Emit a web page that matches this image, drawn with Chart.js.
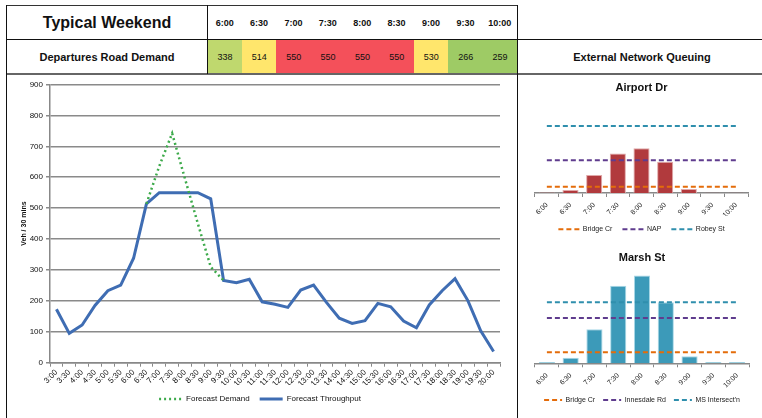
<!DOCTYPE html>
<html>
<head>
<meta charset="utf-8">
<title>Typical Weekend</title>
<script src="https://cdn.jsdelivr.net/npm/chart.js@4.4.1/dist/chart.umd.min.js"></script>
<style>
  html, body { margin: 0; padding: 0; background: #fff; }
  body { width: 762px; height: 418px; position: relative; overflow: hidden;
         font-family: 'Liberation Sans', Arial, sans-serif; color: #111; }
  .rule { position: absolute; background: #111; }
  .txt { position: absolute; white-space: nowrap; transform: translate(-50%, -50%); }
  .cell { position: absolute; display: flex; align-items: center; justify-content: center; font-size: 9px; }
  canvas { position: absolute; }
</style>
</head>
<body>
  <!-- table rules -->
  <div class="rule" style="left:6px; top:5px; width:512px; height:1px; background:#333;"></div>
  <div class="rule" style="left:6px; top:39px; width:756px; height:1px;"></div>
  <div class="rule" style="left:6px; top:73px; width:756px; height:2px; background:#666;"></div>
  <div class="rule" style="left:6px; top:5px; width:1px; height:413px;"></div>
  <div class="rule" style="left:207px; top:5px; width:1px; height:69px;"></div>
  <div class="rule" style="left:517px; top:5px; width:1px; height:413px;"></div>

  <div class="txt" style="left:107px; top:22.5px; font-size:16px; font-weight:bold;">Typical Weekend</div>
  <div class="txt" style="left:107px; top:57px; font-size:11px; font-weight:bold;">Departures Road Demand</div>
  <div class="txt" style="left:642px; top:57px; font-size:11px; font-weight:bold;">External Network Queuing</div>

  <div id="table"></div>

  <canvas id="mainChart" width="510" height="343" style="left:7px; top:75px;"></canvas>
  <canvas id="airportChart" width="243" height="170" style="left:519px; top:75px;"></canvas>
  <canvas id="marshChart" width="243" height="178" style="left:519px; top:240px;"></canvas>

<script>
// Peak-period road demand (veh / 30 mins)
const peakSlots = ['6:00', '6:30', '7:00', '7:30', '8:00', '8:30', '9:00', '9:30', '10:00'];
const roadDemand = [338, 514, 550, 550, 550, 550, 530, 266, 259];

// Whole-day profile, 3:00 to 20:00
const timeLabels = ['3:00', '3:30', '4:00', '4:30', '5:00', '5:30', '6:00', '6:30', '7:00', '7:30',
  '8:00', '8:30', '9:00', '9:30', '10:00', '10:30', '11:00', '11:30', '12:00', '12:30',
  '13:00', '13:30', '14:00', '14:30', '15:00', '15:30', '16:00', '16:30', '17:00', '17:30',
  '18:00', '18:30', '19:00', '19:30', '20:00'];
const forecastThroughput = [173, 95, 122, 185, 233, 251, 338, 514, 550, 550,
  550, 550, 530, 266, 259, 270, 197, 189, 179, 235,
  251, 195, 144, 127, 136, 192, 181, 135, 113, 187,
  233, 272, 201, 103, 36];
const forecastDemand = [null, null, null, null, null, null, null, 514, 636, 742,
  595, 450, 310, 266, null, null, null, null, null, null,
  null, null, null, null, null, null, null, null, null, null,
  null, null, null, null, null];

// External network queue lengths (m) and storage limits
const airportQueue = [3, 16, 97, 213, 240, 168, 22, 2, 2];
const airportBridgeCr = [34, 34, 34, 34, 34, 34, 34, 34, 34];
const airportNAP = [176, 176, 176, 176, 176, 176, 176, 176, 176];
const airportRobeySt = [360, 360, 360, 360, 360, 360, 360, 360, 360];

const marshQueue = [7, 30, 182, 416, 470, 327, 38, 7, 7];
const marshBridgeCr = [59, 59, 59, 59, 59, 59, 59, 59, 59];
const marshInnesdaleRd = [243, 243, 243, 243, 243, 243, 243, 243, 243];
const marshMSIntersection = [327, 327, 327, 327, 327, 327, 327, 327, 327];

// ---- header table ----
function demandColour(v) {
  if (v >= 545) return '#F4505A';
  if (v >= 500) return '#FFE66C';
  if (v >= 300) return '#BFD86E';
  return '#9ECB65';
}
const table = document.getElementById('table');
const colLeft = 207.5, colWidth = (517 - 207.5) / peakSlots.length;
peakSlots.forEach((slot, i) => {
  const head = document.createElement('div');
  head.className = 'cell';
  head.style.cssText = `left:${colLeft + i * colWidth}px; top:6px; width:${colWidth}px; height:33px; font-weight:bold;`;
  head.textContent = slot;
  table.appendChild(head);
  const val = document.createElement('div');
  val.className = 'cell';
  val.style.cssText = `left:${colLeft + i * colWidth}px; top:40px; width:${colWidth + 0.5}px; height:33px; background:${demandColour(roadDemand[i])};`;
  val.textContent = roadDemand[i];
  table.appendChild(val);
});

// ---- charts ----
Chart.defaults.font.family = "'Liberation Sans', Arial, sans-serif";
Chart.defaults.color = '#111';

// legend entries drawn as short line samples carrying each dataset's dash and width
function lineLegendItems(chart) {
  const items = Chart.defaults.plugins.legend.labels.generateLabels(chart);
  items.forEach(it => {
    const ds = chart.data.datasets[it.datasetIndex];
    it.pointStyle = 'line';
    it.lineDash = ds.borderDash || [];
    it.lineWidth = ds.borderWidth;
    it.strokeStyle = ds.borderColor;
    it.lineCap = 'butt';
  });
  return items;
}

new Chart(document.getElementById('mainChart'), {
  type: 'line',
  data: {
    labels: timeLabels,
    datasets: [
      { label: 'Forecast Demand', data: forecastDemand, borderColor: '#3DAA4B', borderWidth: 2.5,
        borderDash: [2, 3], pointRadius: 0, tension: 0, fill: false },
      { label: 'Forecast Throughput', data: forecastThroughput, borderColor: '#3F6DB3', borderWidth: 3,
        pointRadius: 0, tension: 0, fill: false }
    ]
  },
  options: {
    responsive: false, animation: false, devicePixelRatio: 1,
    layout: { padding: { top: 9.5, right: 17, bottom: 5, left: 13 } },
    plugins: {
      legend: { position: 'bottom',
        labels: { usePointStyle: true, pointStyleWidth: 23, boxHeight: 8, generateLabels: lineLegendItems,
                  font: { size: 8 }, color: '#111', padding: 10 } },
      tooltip: { enabled: false }
    },
    scales: {
      x: {
        offset: true,
        grid: { offset: true, drawOnChartArea: false, tickLength: 4, color: '#888' },
        border: { color: '#888', width: 1.5 },
        ticks: { autoSkip: false, maxRotation: 45, minRotation: 45, font: { size: 8 }, color: '#111', padding: 1 },
        afterFit(s) { s.height = 22.3; }
      },
      y: {
        min: 0, max: 900,
        ticks: { stepSize: 100, font: { size: 8 }, color: '#111', padding: 3 },
        grid: { color: '#8a8a8a', lineWidth: 1.5, tickLength: 4 },
        border: { color: '#888', width: 1.5 },
        title: { display: true, text: 'Veh / 30 mins', font: { size: 7, weight: 'bold' }, color: '#111',
                 padding: { top: 0, bottom: 0 } },
        afterFit(s) { s.width = 30; }
      }
    }
  }
});

function queueChart(id, title, queue, refs, barFill, barEdge, geo) {
  const datasets = refs.map(r => ({
    type: 'line', label: r.label, data: r.data, borderColor: r.colour, borderWidth: 2,
    borderDash: [5, 3], pointRadius: 0, fill: false, tension: 0
  }));
  datasets.push({ type: 'bar', label: title, data: queue, backgroundColor: barFill,
                  borderColor: barEdge, borderWidth: 1, barPercentage: 0.68, categoryPercentage: 1 });
  new Chart(document.getElementById(id), {
    type: 'bar',
    data: { labels: peakSlots, datasets },
    options: {
      responsive: false, animation: false, devicePixelRatio: 1,
      layout: { padding: { top: 0, right: geo.right, bottom: geo.bottom, left: 16 } },
      plugins: {
        title: { display: true, text: title, font: { size: 11, weight: 'bold' }, color: '#111',
                 padding: { top: geo.titleTop, bottom: geo.titleBottom } },
        legend: { position: 'bottom',
          labels: { usePointStyle: true, pointStyleWidth: geo.sample, boxHeight: 7, generateLabels: lineLegendItems,
                    font: { size: 7 }, color: '#222', padding: geo.legendPad,
                    filter: item => item.datasetIndex < refs.length } },
        tooltip: { enabled: false }
      },
      scales: {
        x: {
          grid: { offset: true, drawOnChartArea: false, tickLength: 4, color: '#888' },
          border: { color: '#888', width: 1.5 },
          ticks: { autoSkip: false, maxRotation: 45, minRotation: 45, font: { size: 7 }, color: '#222', padding: 4 },
          afterFit(s) { s.height = geo.axisHeight; }
        },
        y: { display: false, min: 0, max: 500 }
      }
    }
  });
}

queueChart('airportChart', 'Airport Dr', airportQueue, [
  { label: 'Bridge Cr', data: airportBridgeCr, colour: '#E46C0A' },
  { label: 'NAP', data: airportNAP, colour: '#5F3C8E' },
  { label: 'Robey St', data: airportRobeySt, colour: '#2F8FAD' }
], '#B13A3D', '#E0A8A8',
  { right: 14, bottom: 2.2, titleTop: 6.4, titleBottom: 5.4, axisHeight: 22.8, legendPad: 10, sample: 21 });

queueChart('marshChart', 'Marsh St', marshQueue, [
  { label: 'Bridge Cr', data: marshBridgeCr, colour: '#E46C0A' },
  { label: 'Innesdale Rd', data: marshInnesdaleRd, colour: '#5F3C8E' },
  { label: "MS Intersect'n", data: marshMSIntersection, colour: '#2F8FAD' }
], '#3C9AB9', '#A8D8E8',
  { right: 13, bottom: 4.5, titleTop: 11.7, titleBottom: 5.1, axisHeight: 25.2, legendPad: 8, sample: 18 });
</script>
</body>
</html>
